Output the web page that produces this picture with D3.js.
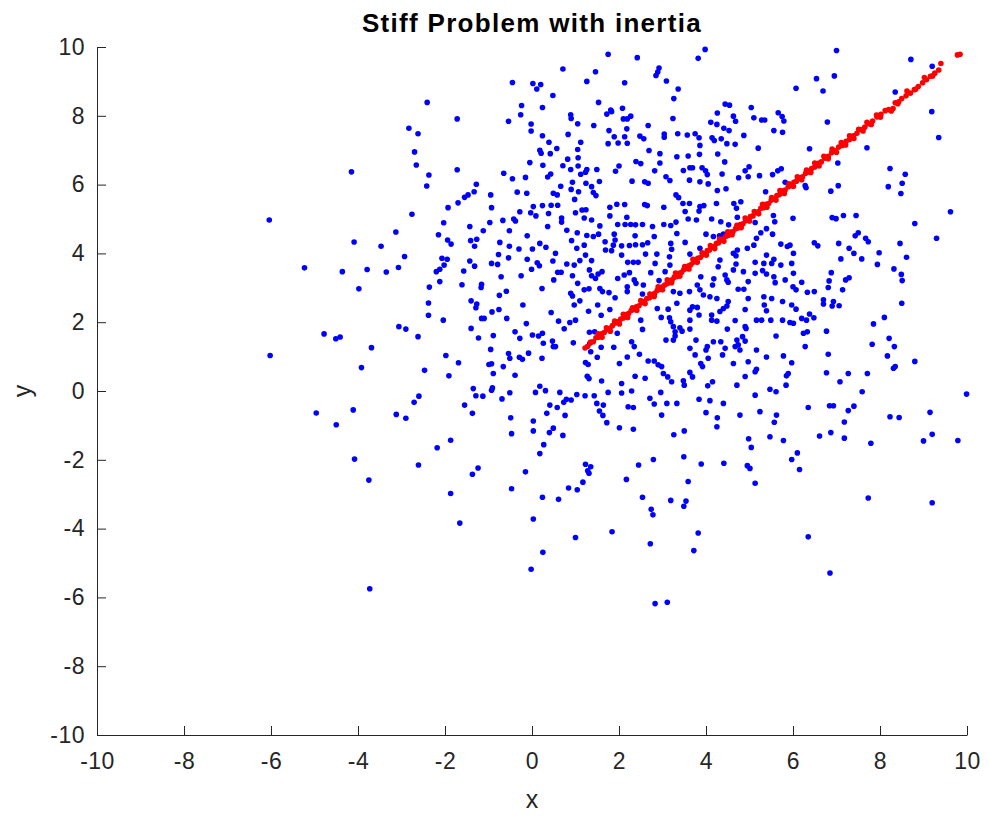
<!DOCTYPE html>
<html>
<head>
<meta charset="utf-8">
<script src="https://cdn.jsdelivr.net/npm/d3@7"></script>
<style>
  body { margin: 0; background: #fff; }
  svg { display: block; }
  text { font-family: "Liberation Sans", Arial, Helvetica, sans-serif; fill: #262626; }
</style>
</head>
<body>
<div id="chart"></div>
<script>
// tick labels
const xTicks = [-10, -8, -6, -4, -2, 0, 2, 4, 6, 8, 10];
const yTicks = [-10, -8, -6, -4, -2, 0, 2, 4, 6, 8, 10];

// blue cloud (x, y)
const bluePoints = [
  // left, top
  [-2.41,8.39],[-2.83,7.64],[-2.62,7.48],[-2.70,6.95],[-2.66,6.57],[-2.37,6.28],[-2.42,5.96],[-4.15,6.37],[-2.76,5.14],[-6.04,4.97],
  // centre-left, top
  [1.75,9.79],[0.71,9.36],[1.46,9.28],[1.26,9.00],[-0.45,8.97],[0.02,8.94],[0.20,8.91],[0.11,8.78],[0.48,8.59],[1.53,8.39],
  [-0.24,8.30],[0.24,8.24],[1.81,8.17],[1.72,8.05],[1.83,8.12],[-0.26,8.03],[0.89,8.03],[0.90,7.92],[-1.72,7.91],[-0.54,7.84],
  [1.05,7.77],[1.42,7.72],[-0.02,7.76],[-0.02,7.56],[1.77,7.57],[0.83,7.46],[0.24,7.42],[1.89,7.39],[0.39,7.23],[1.12,7.23],
  [1.75,7.19],[1.98,7.21],[0.57,7.05],[0.18,7.00],[1.05,7.02],[0.21,6.91],[0.42,6.90],[1.06,6.78],[0.82,6.74],[-0.05,6.64],
  [0.25,6.56],[0.71,6.55],[1.06,6.54],[-1.72,6.43],[0.89,6.44],[1.26,6.44],[1.49,6.44],[1.23,6.36],[1.92,6.39],[2.00,6.54],
  [-0.65,6.33],[1.12,6.30],[0.43,6.31],[0.36,6.22],[-0.45,6.17],[-0.15,6.21],[1.55,6.09],[0.93,6.07],[1.24,6.04],[-1.28,6.01],
  [0.66,5.95],[1.37,5.94],[-1.33,5.79],[-1.47,5.70],[-1.55,5.63],[-0.34,5.78],[-0.12,5.75],[-0.95,5.70],[0.49,5.75],[0.58,5.70],
  [0.90,5.86],[1.07,5.79],[1.41,5.77],[1.47,5.68],[0.98,5.57],[-1.70,5.47],[-1.93,5.33],[-0.93,5.33],[0.03,5.36],[0.24,5.39],
  [0.44,5.40],[0.59,5.40],[1.95,5.43],[1.79,5.34],[-0.28,5.21],[-0.03,5.18],[0.09,5.09],[0.38,5.16],[1.00,5.18],[1.15,5.26],
  [1.24,5.27],[0.68,5.03],[1.20,5.03],[1.37,4.97],[1.79,5.09],[-2.03,4.89],[-0.97,4.90],[-0.67,4.96],[-0.42,5.00],[-0.38,4.94],
  [0.68,4.91],[1.97,4.84],[-1.43,4.78],[1.56,4.80],[0.36,4.78],
  // centre-right, top
  [3.98,9.93],[3.82,9.67],[2.42,9.69],[2.92,9.39],[2.89,9.27],[2.85,9.17],[2.13,8.96],[3.09,9.01],[3.36,8.78],[6.07,8.80],
  [3.26,8.50],[2.08,8.22],[2.27,7.99],[2.10,7.91],[2.19,7.91],[3.24,7.92],[2.67,7.72],[2.18,7.62],[4.44,8.34],[4.54,8.31],
  [4.26,8.08],[4.63,7.99],[4.68,7.84],[5.04,8.24],[5.10,7.94],[5.28,7.88],[5.35,7.88],[5.66,8.09],[5.75,7.98],[5.79,7.85],
  [4.11,7.81],[4.25,7.75],[4.41,7.64],[4.53,7.57],[5.56,7.57],[5.76,7.52],[2.13,7.39],[2.48,7.41],[2.57,7.33],[3.04,7.47],
  [3.04,7.38],[3.35,7.48],[3.57,7.44],[3.75,7.48],[3.84,7.36],[4.14,7.36],[4.19,7.28],[4.35,7.33],[4.48,7.19],[4.67,7.17],
  [4.87,7.43],[2.19,7.20],[3.86,7.14],[2.69,6.99],[2.94,6.90],[3.85,6.88],[3.59,6.83],[3.33,6.81],[4.27,6.89],[5.20,7.06],
  [2.39,6.67],[2.50,6.61],[2.94,6.63],[2.82,6.40],[3.48,6.41],[3.63,6.49],[3.69,6.49],[3.91,6.49],[3.99,6.40],[4.03,6.29],
  [4.43,6.66],[4.99,6.52],[4.90,6.40],[4.97,6.23],[5.23,6.26],[4.75,6.20],[4.37,6.31],[5.53,6.29],[5.65,6.40],[5.73,6.46],
  [2.30,6.10],[2.59,6.08],[2.67,6.04],[3.08,6.23],[3.17,6.12],[3.62,6.13],[3.86,6.08],[4.05,6.02],[4.26,5.83],[4.46,5.88],
  [5.37,5.79],[5.82,6.07],[3.31,5.70],[3.37,5.62],[2.13,5.42],[2.59,5.42],[2.65,5.39],[3.03,5.34],[3.47,5.45],[3.62,5.45],
  [3.86,5.36],[3.95,5.39],[4.24,5.45],[4.64,5.45],[4.80,5.50],[3.52,5.22],[3.84,5.23],[4.70,5.31],[2.18,5.05],[3.78,4.97],
  [3.59,5.00],[4.13,5.00],[4.34,4.92],[4.72,5.05],[5.55,5.10],[5.58,4.92],[6.00,5.02],[2.14,4.84],[2.27,4.84],[2.38,4.83],
  [2.54,4.84],[2.77,4.78],[3.03,4.84],[3.19,4.81],[3.31,4.91],[4.52,4.83],[5.13,4.90],[5.39,4.72],
  // right, top
  [7.00,9.90],[8.71,9.64],[9.20,9.44],[6.54,9.08],[6.95,9.16],[6.69,8.72],[8.35,8.69],[9.19,8.12],[6.79,7.82],[9.35,7.37],
  [6.38,7.04],[7.70,7.07],[7.12,7.19],[7.03,6.63],[8.23,6.47],[8.58,6.30],[6.28,5.97],[6.30,5.91],[7.04,5.97],[8.19,5.94],
  [8.51,6.04],[8.48,5.74],[6.87,5.81],[6.90,5.04],[6.99,5.01],[7.16,5.10],[7.45,5.10],[9.62,5.21],[8.80,4.87],
  // left, middle
  [-3.13,4.62],[-2.15,4.54],[-4.09,4.33],[-3.47,4.21],[-2.93,3.91],[-3.07,3.59],[-5.23,3.58],[-4.36,3.47],[-3.79,3.53],[-3.35,3.46],
  [-2.20,3.47],[-2.12,3.54],[-2.12,3.18],[-3.98,2.97],[-2.36,3.02],[-2.38,2.56],[-2.38,2.20],[-3.06,1.87],[-2.90,1.80],[-2.62,1.58],
  [-4.78,1.66],[-4.51,1.52],[-4.41,1.57],[-3.69,1.26],[-6.02,1.03],[-3.92,0.68],[-2.47,0.60],[-2.60,-0.15],[-2.71,-0.33],[-4.96,-0.64],
  [-4.11,-0.55],[-3.12,-0.68],[-2.90,-0.79],
  // centre-left, middle
  [-1.94,4.39],[-1.86,4.27],[-1.41,4.37],[-1.27,4.41],[-1.32,4.21],[-1.12,4.66],[-0.52,4.66],[-0.74,4.32],[-0.52,4.21],[-0.11,4.51],
  [0.18,4.29],[0.32,4.18],[0.01,4.13],[-0.30,4.13],[-0.77,3.97],[-0.54,3.87],[0.54,4.00],[0.48,3.78],[-0.11,3.83],[0.12,3.73],
  [0.17,3.64],[0.80,4.67],[1.04,4.60],[1.26,4.52],[1.41,4.49],[1.53,4.56],[0.91,4.37],[1.20,4.24],[1.03,4.15],[1.68,4.34],
  [1.89,4.56],[1.91,4.39],[1.87,4.24],[1.83,4.08],[1.69,4.10],[1.23,3.95],[1.37,3.79],[-2.07,3.86],[-1.95,3.83],[-2.02,3.66],
  [-1.43,3.78],[-1.32,3.63],[-0.93,3.71],[-0.79,3.68],[-1.57,3.49],[-0.25,3.35],[-0.01,3.54],[-0.71,3.32],[0.59,3.45],[0.67,3.45],
  [0.50,3.23],[0.80,3.69],[0.97,3.66],[1.10,3.79],[0.93,3.35],[1.05,3.13],[1.32,3.52],[1.37,3.35],[1.46,3.27],[1.61,3.47],
  [1.52,3.40],[1.97,3.27],[1.20,2.94],[1.31,2.97],[1.56,2.98],[1.62,2.89],[1.77,2.86],[1.91,2.71],[-1.61,3.09],
  [-1.16,3.10],[-1.17,3.01],[-0.59,2.90],[-0.75,2.78],[0.23,2.98],[0.89,2.84],[0.93,2.76],[1.10,2.62],[-1.40,2.62],[-1.27,2.53],
  [-1.29,2.42],[-0.21,2.50],[0.97,2.50],[-0.92,2.30],[-0.76,2.37],[0.44,2.28],[1.51,2.50],[1.79,2.37],[1.30,2.32],[-1.16,2.11],
  [-1.10,2.11],[-0.58,2.11],[-2.04,2.06],[0.61,2.03],[0.87,1.99],[1.00,2.06],[1.59,2.20],[-0.13,1.96],[-1.40,1.82],[0.74,1.81],
  [-0.39,1.72],[-0.28,1.53],[0.01,1.63],[0.15,1.60],[0.24,1.68],[-0.89,1.61],[-1.23,1.54],[1.32,1.71],[1.44,1.72],[1.96,1.68],
  [0.26,1.39],[0.47,1.45],[0.49,1.29],[0.54,1.29],[0.95,1.40],[1.33,1.39],[1.59,1.27],[1.88,1.27],[-0.95,1.21],[-0.54,1.09],
  [-0.51,0.95],[-0.29,0.98],[-0.22,0.92],[-0.08,1.10],[0.23,0.95],[-1.98,1.03],[-1.69,0.82],[1.35,1.14],[1.50,0.98],[1.23,0.83],
  [1.29,0.77],[-0.99,0.77],[-0.93,0.79],[-0.66,0.71],[-0.89,0.51],[-1.91,0.44],[-0.39,0.46],[1.27,0.43],[1.31,0.36],[1.60,0.29],
  [2.01,0.80],[0.18,0.14],[-1.35,0.07],[-0.91,0.09],[-0.93,0.02],[0.08,-0.04],[0.31,0.01],[-0.51,-0.05],[-1.29,-0.14],[-1.13,-0.15],
  [0.64,-0.04],[1.03,-0.10],[1.22,-0.14],[1.43,-0.14],[1.75,-0.04],[-0.69,-0.23],[0.79,-0.24],[0.73,-0.33],[0.90,-0.26],[-1.55,-0.41],
  [0.41,-0.41],[0.58,-0.48],[1.49,-0.36],[1.64,-0.41],[-1.37,-0.65],[0.34,-0.65],[0.76,-0.71],[1.55,-0.58],[1.63,-0.71],[-0.49,-0.78],
  // centre-right, middle
  [2.37,4.51],[2.24,4.23],[2.38,4.25],[2.54,4.25],[2.06,4.22],[2.81,4.49],[2.66,4.31],[3.19,4.29],[3.21,4.12],[3.33,4.58],
  [3.52,4.32],[3.16,3.90],[2.87,3.98],[3.63,3.98],[4.00,4.56],[4.17,4.49],[3.86,4.15],[2.61,3.98],[2.06,3.95],[2.20,3.74],
  [2.33,3.74],[2.44,3.74],[2.83,3.71],[3.17,3.66],[3.06,3.47],[2.24,3.44],[2.12,3.37],[2.73,3.44],[2.35,3.23],[2.39,3.13],
  [2.92,3.21],[2.56,3.08],[2.19,3.03],[2.19,2.89],[2.54,2.82],[2.75,2.77],[3.25,2.89],[3.40,2.84],[3.62,2.89],[3.80,3.08],
  [3.86,2.94],[3.94,2.79],[4.18,3.26],[4.15,3.08],[4.44,3.37],[4.48,3.23],[4.51,3.16],[4.09,2.74],[4.25,2.69],[4.31,4.51],
  [4.40,4.56],[4.63,4.00],[4.72,4.10],[4.69,3.93],[4.32,3.81],[4.28,3.61],[3.88,3.32],[4.69,3.69],[4.63,3.52],[4.86,3.47],
  [4.74,2.96],[4.87,2.96],[4.97,3.18],[5.13,3.42],[4.95,4.15],[5.16,4.44],[5.26,4.60],[5.10,4.24],[5.53,4.56],[5.39,3.95],
  [5.13,3.74],[5.33,3.71],[5.51,3.71],[5.56,3.83],[5.30,3.50],[5.39,3.40],[5.72,4.27],[5.87,4.20],[5.93,4.24],[6.01,4.00],
  [5.97,3.71],[5.72,3.66],[6.01,3.42],[5.56,3.32],[5.59,3.15],[5.82,3.23],[6.00,3.03],[6.07,2.94],[4.97,2.69],[5.33,2.74],
  [5.51,2.69],[5.76,2.60],[5.97,2.50],[6.07,2.38],[5.34,2.50],[5.39,2.33],[4.51,2.60],[4.40,2.40],[4.48,2.47],[4.32,2.31],
  [4.90,2.37],[4.67,2.05],[4.90,1.87],[4.49,1.80],[4.13,2.21],[4.13,2.06],[4.25,2.03],[3.84,2.21],[3.69,2.45],[3.80,2.43],
  [3.63,2.35],[3.33,2.55],[3.13,2.38],[2.88,2.40],[2.97,2.14],[3.16,2.13],[3.19,2.01],[3.63,2.06],[2.50,2.06],[2.54,1.79],
  [3.25,1.87],[3.40,1.84],[3.45,1.74],[3.29,1.72],[3.63,1.80],[3.08,1.48],[3.25,1.48],[3.29,1.60],[3.77,1.48],[2.29,1.43],
  [2.35,1.29],[4.03,1.29],[4.00,1.19],[4.17,1.43],[4.34,1.43],[4.44,1.24],[4.71,1.48],[4.67,1.29],[4.74,1.34],[4.84,1.58],
  [4.90,1.45],[4.92,1.82],[4.78,1.19],[3.63,1.24],[3.75,1.05],[4.05,0.95],[2.19,0.99],[2.47,1.07],[2.67,0.87],[2.81,0.87],
  [2.90,0.76],[2.98,0.71],[4.38,1.05],[4.63,0.80],[4.97,0.85],[5.16,1.19],[5.39,0.99],[5.78,1.02],[5.97,0.82],[5.61,1.60],
  [6.01,1.97],[5.16,2.06],[5.28,2.06],[5.49,2.06],[5.76,2.06],[5.93,1.99],[2.37,0.43],[2.60,0.37],[3.02,0.51],[3.12,0.41],
  [3.21,0.27],[3.63,0.54],[3.69,0.41],[3.88,0.80],[3.92,0.71],[3.48,0.30],[3.50,0.17],[4.04,0.15],[4.15,0.27],[4.71,0.17],
  [4.90,0.42],[5.16,0.63],[5.13,0.56],[5.89,0.51],[5.85,0.44],[5.84,0.17],[2.06,0.22],[2.06,-0.06],[2.29,0.00],[2.71,-0.21],
  [2.96,-0.04],[2.81,-0.38],[3.10,-0.36],[3.33,-0.36],[3.84,-0.24],[4.09,-0.28],[4.40,-0.36],[5.13,-0.12],[5.47,0.05],[5.61,-0.02],
  [2.21,-0.46],[2.33,-0.48],[2.98,-0.70],[4.00,-0.63],[4.26,-0.78],[4.78,-0.70],[5.24,-0.60],[5.62,-0.70],
  // right, middle
  [7.50,4.60],[7.43,4.51],[7.67,4.44],[7.73,4.34],[6.49,4.31],[6.57,4.22],[7.05,4.29],[7.29,4.15],[7.40,4.00],[7.98,4.02],
  [8.46,4.29],[9.30,4.44],[8.61,3.89],[7.10,3.84],[7.58,3.84],[7.94,3.68],[8.32,3.55],[6.88,3.44],[8.49,3.39],[8.51,3.21],
  [7.29,3.29],[7.21,3.23],[6.83,3.20],[6.20,3.16],[6.81,3.01],[7.14,2.94],[6.33,2.87],[6.49,2.89],[6.70,2.65],[6.70,2.53],
  [6.93,2.60],[6.90,2.47],[7.06,2.48],[8.50,2.55],[6.38,2.24],[6.20,2.11],[6.31,2.06],[6.48,2.13],[8.10,2.14],[7.85,1.95],
  [6.24,1.68],[6.33,1.72],[6.77,1.74],[8.21,1.53],[8.33,1.29],[7.82,1.36],[6.28,1.29],[6.81,1.07],[8.17,1.02],[8.80,0.86],
  [8.31,0.66],[8.35,0.71],[6.77,0.53],[7.27,0.51],[7.71,0.51],[7.08,0.27],[7.59,-0.02],[9.99,-0.09],[6.35,-0.48],[6.84,-0.43],
  [6.93,-0.43],[7.40,-0.44],[7.27,-0.57],[9.15,-0.62],[8.23,-0.75],[8.44,-0.77],
  // left, bottom
  [-4.50,-0.98],[-4.08,-1.98],[-2.18,-1.65],[-2.61,-2.15],[-3.75,-2.59],[-3.73,-5.75],
  // centre-left, bottom
  [0.03,-0.87],[0.03,-1.16],[-0.47,-1.24],[0.40,-1.21],[0.49,-1.08],[0.71,-1.29],[1.72,-0.92],[2.01,-1.07],[-1.87,-1.43],[0.27,-1.56],
  [0.18,-1.82],[-1.24,-2.24],[-1.37,-2.42],[-0.15,-2.35],[1.23,-2.13],[1.35,-2.20],[1.28,-2.32],[1.31,-2.39],[1.17,-2.65],[0.84,-2.82],
  [1.04,-2.87],[-1.87,-2.98],[-0.47,-2.84],[0.24,-3.09],[0.61,-3.15],[0.03,-3.72],[-1.66,-3.84],[1.00,-4.26],[1.84,-4.09],[0.25,-4.69],
  [-0.02,-5.18],
  // centre-right, bottom
  [2.33,-1.11],[3.26,-1.27],[3.50,-1.16],[4.25,-1.04],[5.57,-0.91],[4.98,-1.39],[5.04,-1.64],[5.47,-1.33],[5.78,-1.44],[6.10,-1.80],
  [5.97,-1.99],[6.15,-2.28],[2.79,-1.99],[3.49,-1.91],[2.45,-2.15],[3.89,-2.12],[4.41,-2.10],[4.95,-2.17],[5.01,-2.25],[2.17,-2.57],
  [3.59,-2.63],[5.13,-2.68],[2.54,-3.09],[3.19,-3.18],[3.54,-3.20],[3.49,-3.35],[2.74,-3.44],[2.78,-3.60],[3.82,-4.13],[2.72,-4.44],
  [3.72,-4.64],[2.83,-6.18],[3.11,-6.14],
  // right, bottom
  [7.18,-0.90],[6.61,-1.31],[6.87,-1.21],[7.18,-1.37],[7.79,-1.52],[9.00,-1.45],[9.20,-1.26],[9.79,-1.44],[7.73,-3.11],[9.20,-3.25],
  [6.35,-4.24],[6.85,-5.29]
];

// red band (x, y)
const redPoints = [
  // middle of the band
  [1.22,1.25],[1.28,1.30],[1.35,1.42],[1.41,1.43],[1.47,1.55],[1.53,1.56],[1.60,1.66],[1.66,1.70],[1.72,1.79],[1.79,1.82],
  [1.85,1.90],[1.91,1.98],[1.97,2.01],[2.04,2.09],[2.10,2.12],[2.16,2.22],[2.22,2.25],[2.28,2.34],[2.34,2.37],[2.40,2.45],
  [2.46,2.48],[2.52,2.57],[2.58,2.60],[2.64,2.69],[2.70,2.71],[2.76,2.80],[2.82,2.84],[2.88,2.93],[2.94,2.95],[3.00,3.03],
  [3.05,3.08],[3.11,3.12],[3.16,3.20],[3.22,3.23],[3.27,3.31],[3.33,3.33],[3.38,3.42],[3.44,3.45],[3.49,3.53],[3.55,3.56],
  [3.60,3.64],[3.65,3.67],[3.71,3.74],[3.76,3.77],[3.81,3.86],[3.87,3.88],[3.92,3.96],[3.97,3.98],[4.03,4.08],[4.08,4.10],
  [4.13,4.18],[4.19,4.20],[4.24,4.29],[4.29,4.31],[4.35,4.40],[4.40,4.42],[4.46,4.50],[4.51,4.52],[4.57,4.62],[4.62,4.63],
  [4.68,4.72],[4.73,4.74],[4.79,4.84],[4.85,4.86],[4.91,4.95],[4.96,4.98],[5.02,5.07],[5.08,5.09],[5.14,5.19],[5.20,5.21],
  [5.26,5.31],[5.32,5.33],[5.38,5.43],[5.44,5.45],[5.50,5.55],[5.57,5.58],[5.63,5.68],[5.69,5.71],[5.76,5.81],[5.82,5.84],
  [5.89,5.94],[5.95,5.97],[6.02,6.07],[6.08,6.10],[6.15,6.20],[6.22,6.23],[6.29,6.33],[6.36,6.37],[6.43,6.47],[6.50,6.51],
  [6.58,6.62],[6.65,6.66],[6.73,6.77],[6.81,6.82],[6.89,6.93],[6.97,6.98],[7.05,7.09],[7.13,7.14],[7.22,7.26],[7.30,7.31],
  [7.39,7.42],[7.47,7.49],[7.56,7.60],[7.65,7.67],[7.74,7.77],[7.83,7.85],[7.93,7.97],[8.02,8.04],[8.12,8.15],[8.20,8.18],
  [8.26,8.14],[8.30,8.21],[8.35,8.38],[8.43,8.41],[8.50,8.50],[8.60,8.58],[8.70,8.66],[8.79,8.76],[8.88,8.85],[8.98,8.96],
  [9.07,9.05],[9.16,9.15],[9.26,9.24],[9.35,9.33],[9.40,9.52],[9.78,9.77],[9.84,9.79],
  // upper edge of the band
  [1.52,1.66],[1.71,1.84],[1.90,2.03],[2.10,2.23],[2.31,2.42],[2.50,2.63],[2.71,2.82],[2.90,3.03],[3.11,3.23],[3.30,3.43],
  [3.51,3.62],[3.70,3.83],[3.91,4.02],[4.10,4.23],[4.31,4.42],[4.50,4.63],[4.71,4.82],[4.90,5.03],[5.11,5.22],[5.30,5.43],
  [5.51,5.62],[5.70,5.83],[5.91,6.02],[6.10,6.23],[6.31,6.42],[6.50,6.63],[6.71,6.82],[6.90,7.03],[7.11,7.22],[7.30,7.42],
  [7.51,7.61],[7.70,7.81],[7.92,8.02],[8.62,8.72],[9.02,9.11],
  // lower edge of the band
  [1.61,1.56],[1.80,1.74],[2.01,1.95],[2.20,2.14],[2.41,2.35],[2.60,2.54],[2.81,2.75],[3.00,2.94],[3.21,3.15],[3.40,3.34],
  [3.61,3.55],[3.80,3.74],[4.01,3.95],[4.20,4.14],[4.41,4.35],[4.60,4.54],[4.81,4.75],[5.00,4.94],[5.21,5.15],[5.40,5.34],
  [5.61,5.55],[5.80,5.74],[6.01,5.95],[6.20,6.14],[6.41,6.35],[6.60,6.54],[6.81,6.75],[7.00,6.94],[7.21,7.15],[7.40,7.34],
  [7.61,7.56],[7.80,7.75],[8.01,7.96],[8.41,8.35],[8.82,8.77],[9.21,9.16]
];

const width = 989;
const height = 818;
const margin = { left: 97, right: 22, top: 47, bottom: 83 };

const svg = d3.select("#chart")
  .append("svg")
  .attr("width", width)
  .attr("height", height);

const x = d3.scaleLinear()
  .domain([-10, 10])
  .range([margin.left, width - margin.right]);

const y = d3.scaleLinear()
  .domain([-10, 10])
  .range([height - margin.bottom, margin.top]);

// AXES (ticks point inward, matlab style, plain hyphen for minus)
const fmt = d => String(d);

const xAxis = svg.append("g")
  .attr("transform", `translate(0,${height - margin.bottom})`)
  .call(d3.axisBottom(x).tickValues(xTicks).tickFormat(fmt).tickSizeInner(-9).tickSizeOuter(0).tickPadding(18));

const yAxis = svg.append("g")
  .attr("transform", `translate(${margin.left},0)`)
  .call(d3.axisLeft(y).tickValues(yTicks).tickFormat(fmt).tickSizeInner(-9).tickSizeOuter(0).tickPadding(12));

[xAxis, yAxis].forEach(a => {
  a.selectAll("path, line").attr("stroke", "#262626").attr("stroke-width", 1);
  a.selectAll("text")
    .style("font-size", "23px")
    .style("letter-spacing", "0.5px")
    .attr("fill", "#262626");
});

// POINTS
svg.append("g")
  .selectAll("circle")
  .data(bluePoints)
  .enter()
  .append("circle")
  .attr("cx", d => x(d[0]))
  .attr("cy", d => y(d[1]))
  .attr("r", 2.8)
  .attr("fill", "#0000ff");

svg.append("g")
  .selectAll("circle")
  .data(redPoints)
  .enter()
  .append("circle")
  .attr("cx", d => x(d[0]))
  .attr("cy", d => y(d[1]))
  .attr("r", 2.8)
  .attr("fill", "#ff0000");

// LABELS
svg.append("text")
  .attr("x", (margin.left + width - margin.right) / 2)
  .attr("y", 32)
  .attr("text-anchor", "middle")
  .style("font-size", "26px")
  .style("font-weight", "bold")
  .style("letter-spacing", "1.3px")
  .style("fill", "#000")
  .text("Stiff Problem with inertia");

svg.append("text")
  .attr("x", (margin.left + width - margin.right) / 2)
  .attr("y", 808)
  .attr("text-anchor", "middle")
  .style("font-size", "25px")
  .text("x");

svg.append("text")
  .attr("transform", `translate(31,${y(0)}) rotate(-90)`)
  .attr("text-anchor", "middle")
  .style("font-size", "25px")
  .text("y");
</script>
</body>
</html>
